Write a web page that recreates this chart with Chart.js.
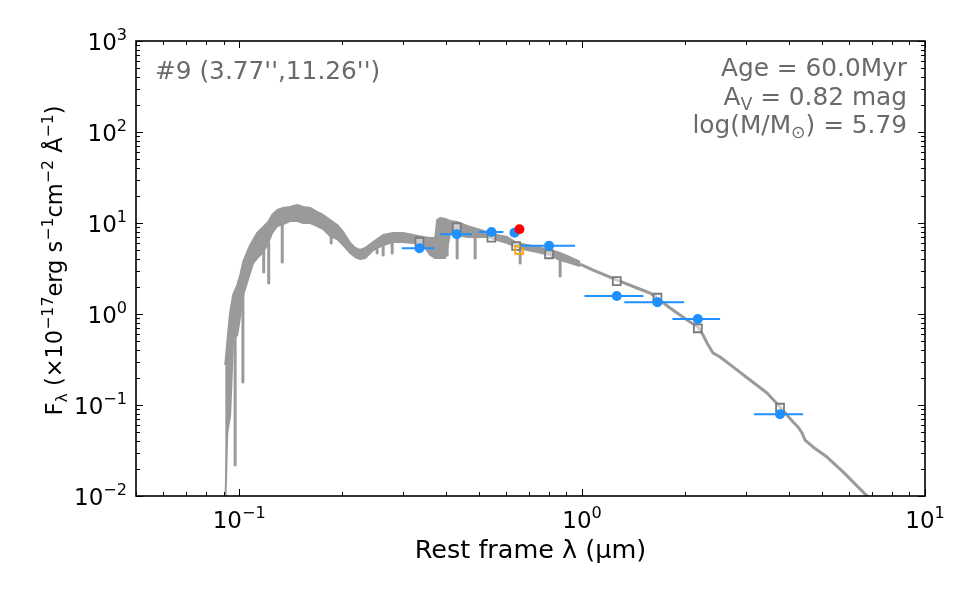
<!DOCTYPE html>
<html><head><meta charset="utf-8">
<script src="https://cdn.jsdelivr.net/npm/chart.js@4/dist/chart.umd.min.js"></script>
<style>html,body{margin:0;padding:0;background:#fff;}#wrap{width:975px;height:603px;}</style>
</head><body><div id="wrap"><canvas id="c" width="975" height="603"></canvas></div>
<script>
// ---- model spectrum: noisy UV/optical part drawn as a band (upper / lower envelope) ----
const bandLambda = [0.0910,0.0923,0.0941,0.0960,0.0987,0.1007,0.1027,0.1055,0.1077,0.1098,0.1128,0.1151,0.1175,0.1215,0.1248,0.1291,0.1344,0.1408,0.1476,0.1537,0.1611,0.1688,0.1757,0.1842,0.1931,0.2010,0.2107,0.2179,0.2253,0.2330,0.2459,0.2629,0.2812,0.3006,0.3216,0.3439,0.3605,0.3728,0.3778,0.3855,0.3987,0.4123,0.4321,0.4620,0.4942,0.5284,0.5651,0.6043,0.6462,0.6915,0.7393,0.8067,0.8628,0.9043,0.9867];
const bandHi = [0.275,0.492,1.05,1.62,2.08,2.68,3.73,4.80,5.73,6.50,7.77,8.38,9.04,10.26,12.24,13.90,14.62,14.99,15.77,14.99,14.62,13.21,12.24,10.79,9.51,7.96,6.03,5.31,5.05,5.31,6.18,7.38,7.77,7.77,7.38,7.02,6.84,6.84,10.79,11.35,11.07,10.52,10.26,9.27,8.59,7.96,7.38,7.02,6.03,5.73,5.45,5.05,4.68,4.34,3.73];
const bandLo = [0.007,0.0492,0.0777,0.518,0.588,0.975,1.62,2.25,2.89,3.63,4.12,4.45,4.80,6.03,7.77,9.27,9.75,10.52,10.52,10.00,10.00,9.27,8.59,7.20,6.67,5.73,4.68,4.23,4.02,4.12,5.05,5.73,6.18,6.18,6.03,5.73,4.45,4.12,4.12,4.12,4.12,7.77,7.38,7.02,7.02,7.02,6.50,6.03,5.45,5.05,4.80,4.45,3.92,3.73,3.37];
// ---- model spectrum: smooth near-IR tail ----
const tailLambda = [0.9867,1.077,1.265,1.446,1.579,1.655,1.805,2.024,2.178,2.253,2.314,2.409,2.526,2.755,3.089,3.462,3.778,4.123,4.264,4.380,4.469,4.714,5.179,5.768,6.776,7.39];
const tailFlux = [3.54,3.04,2.36,1.93,1.70,1.50,1.164,0.859,0.720,0.588,0.480,0.373,0.337,0.262,0.188,0.1355,0.0951,0.0650,0.0573,0.0492,0.0412,0.0346,0.0268,0.0184,0.0100,0.0074];
// ---- narrow absorption lines of the model ----
const lineLambda = [0.0973,0.1025,0.1179,0.1219,0.1335,0.1854,0.2525,0.2629,0.2793,0.4041,0.4321,0.4876,0.6596,0.8628];
const lineTop = [0.667,1.745,4.80,6.03,9.75,7.20,5.05,5.73,6.18,7.77,7.38,7.02,5.45,4.12];
const lineBottom = [0.0219,0.179,2.89,2.19,3.73,6.03,4.68,4.45,4.68,4.45,4.12,4.12,3.63,2.62];
// ---- observed photometry ----
const obsLambda = [0.3355,0.431,0.544,0.635,0.801,1.262,1.658,2.175,3.778];
const obsFlux = [5.27,7.51,7.96,7.82,5.63,1.577,1.345,0.881,0.0790];
const obsLambdaLo = [0.298,0.3855,0.4984,0.635,0.66,1.016,1.328,1.834,3.173];
const obsLambdaHi = [0.370,0.477,0.5895,0.635,0.954,1.509,1.984,2.526,4.41];
const haLambda = [0.6565];
const haFlux = [8.53];
// ---- model photometry ----
const modelLambda = [0.3355,0.431,0.544,0.642,0.801,1.262,1.658,2.175,3.778];
const modelFlux = [6.23,8.95,6.90,5.59,4.53,2.30,1.51,0.697,0.0934];
const modelHaLambda = [0.6553];
const modelHaFlux = [5.05];
// ---- axes ----
const xMajorTicks = [0.1, 1, 10];
const xTickLabels = ['10^{−1}', '10^{0}', '10^{1}'];
const yMajorTicks = [0.01, 0.1, 1, 10, 100, 1000];
const yTickLabels = ['10^{−2}', '10^{−1}', '10^{0}', '10^{1}', '10^{2}', '10^{3}'];
const xTitle = 'Rest frame λ (μm)';
const yTitle = [['F',''],['λ','sub'],[' (×10',''],['−17','sup'],['erg s',''],['−1','sup'],['cm',''],['−2','sup'],[' Å',''],['−1','sup'],[')','']];
const labelLeft = '#9 (3.77\'\',11.26\'\')';
const labelRight = [
  [['Age = 60.0Myr','']],
  [['A',''],['V','sub'],[' = 0.82 mag','']],
  [['log(M/M',''],['⊙','sub'],[') = 5.79','']]
];

function minorTicks(lo, hi) {
  const out = [];
  for (let e = Math.floor(Math.log10(lo)); e <= Math.ceil(Math.log10(hi)); e++) {
    for (let m = 1; m <= 9; m++) {
      const v = +(m * Math.pow(10, e)).toPrecision(6);
      if (v >= lo * 0.9999 && v <= hi * 1.0001) out.push(v);
    }
  }
  return out;
}
const xAllTicks = minorTicks(0.05, 10);
const yAllTicks = minorTicks(0.01, 1000);

const pts = (xs, ys) => xs.map((x, i) => ({x: x, y: ys[i]}));
const segs = (xs0, xs1, ys0, ys1) => {
  const out = [];
  xs0.forEach((x, i) => { out.push({x: x, y: ys0[i]}); out.push({x: xs1[i], y: ys1[i]}); out.push({x: xs1[i], y: null}); });
  return out;
};

const FONT = '"DejaVu Sans", sans-serif';
function fontStr(s) { return s + 'px ' + FONT; }
function parseLabel(lbl) { const m = lbl.match(/^(.*)\^\{(.*)\}$/); return m ? [[m[1], ''], [m[2], 'sup']] : [[lbl, '']]; }
function richWidth(ctx, parts, size) {
  let w = 0;
  for (const [t, m] of parts) { ctx.font = fontStr(m ? size * 0.7 : size); w += ctx.measureText(t).width; }
  return w;
}
function drawRich(ctx, parts, x, y, size, align) {
  const w = richWidth(ctx, parts, size);
  let cx = align === 'right' ? x - w : (align === 'center' ? x - w / 2 : x);
  ctx.textAlign = 'left'; ctx.textBaseline = 'alphabetic';
  for (const [t, m] of parts) {
    const s = m ? size * 0.7 : size;
    ctx.font = fontStr(s);
    const dy = m === 'sup' ? -size * 0.42 : (m === 'sub' ? size * 0.22 : 0);
    ctx.fillText(t, cx, y + dy);
    cx += ctx.measureText(t).width;
  }
}

const framePlugin = {
  id: 'frame',
  afterDraw(chart) {
    const ctx = chart.ctx, a = chart.chartArea, xs = chart.scales.x, ys = chart.scales.y;
    ctx.save();
    ctx.strokeStyle = '#000'; ctx.lineWidth = 1;
    xAllTicks.forEach(v => {
      const p = Math.round(xs.getPixelForValue(v)) + 0.5;
      const len = xMajorTicks.includes(v) ? 7 : 4;
      ctx.beginPath(); ctx.moveTo(p, a.bottom); ctx.lineTo(p, a.bottom - len);
      ctx.moveTo(p, a.top); ctx.lineTo(p, a.top + len); ctx.stroke();
    });
    yAllTicks.forEach(v => {
      const p = Math.round(ys.getPixelForValue(v)) + 0.5;
      const len = yMajorTicks.includes(v) ? 7 : 4;
      ctx.beginPath(); ctx.moveTo(a.left, p); ctx.lineTo(a.left + len, p);
      ctx.moveTo(a.right, p); ctx.lineTo(a.right - len, p); ctx.stroke();
    });
    ctx.lineWidth = 1.6;
    ctx.strokeRect(a.left, a.top, a.right - a.left, a.bottom - a.top);
    ctx.fillStyle = '#000';
    xMajorTicks.forEach((v, i) => {
      drawRich(ctx, parseLabel(xTickLabels[i]), xs.getPixelForValue(v), a.bottom + 32, 23, 'center');
    });
    yMajorTicks.forEach((v, i) => {
      drawRich(ctx, parseLabel(yTickLabels[i]), a.left - 9, ys.getPixelForValue(v) + 8.5, 23, 'right');
    });
    drawRich(ctx, [[xTitle, '']], (a.left + a.right) / 2, 558, 25.5, 'center');
    ctx.save();
    ctx.translate(62, (a.top + a.bottom) / 2 - 8);
    ctx.rotate(-Math.PI / 2);
    drawRich(ctx, yTitle, 0, 0, 22.5, 'center');
    ctx.restore();
    ctx.fillStyle = '#6a6a6a';
    drawRich(ctx, [[labelLeft, '']], 155, 79, 24.8, 'left');
    labelRight.forEach((parts, i) => drawRich(ctx, parts, 907, 76 + i * 28.5, 24.8, 'right'));
    ctx.restore();
  }
};

const GREY = '#9a9a9a';
new Chart(document.getElementById('c'), {
  type: 'line',
  data: {
    datasets: [
      {label: 'Halpha', data: pts(haLambda, haFlux), showLine: false, pointRadius: 5, pointBackgroundColor: '#ff0000', pointBorderColor: '#ff0000', pointBorderWidth: 0},
      {label: 'observed', data: pts(obsLambda, obsFlux), showLine: false, pointRadius: 5, pointBackgroundColor: '#1e90ff', pointBorderColor: '#1e90ff', pointBorderWidth: 0},
      {label: 'xerr', data: segs(obsLambdaLo, obsLambdaHi, obsFlux, obsFlux), borderColor: '#1e90ff', borderWidth: 2, pointRadius: 0, spanGaps: false, fill: false},
      {label: 'model Halpha', data: pts(modelHaLambda, modelHaFlux), showLine: false, pointStyle: 'rect', pointRadius: 5.6, pointBackgroundColor: 'rgba(255,255,255,0)', pointBorderColor: '#ffa500', pointBorderWidth: 1.8},
      {label: 'model phot', data: pts(modelLambda, modelFlux), showLine: false, pointStyle: 'rect', pointRadius: 5.6, pointBackgroundColor: 'rgba(255,255,255,0.5)', pointBorderColor: '#7a7a7a', pointBorderWidth: 1.8},
      {label: 'lines', data: segs(lineLambda, lineLambda, lineTop, lineBottom), borderColor: GREY, borderWidth: 3, pointRadius: 0, spanGaps: false, fill: false},
      {label: 'tail', data: pts(tailLambda, tailFlux), borderColor: GREY, borderWidth: 3, pointRadius: 0, fill: false},
      {label: 'bandHi', data: pts(bandLambda, bandHi), borderColor: GREY, borderWidth: 2, pointRadius: 0, fill: false},
      {label: 'bandLo', data: pts(bandLambda, bandLo), borderColor: GREY, borderWidth: 2, pointRadius: 0, fill: '-1', backgroundColor: GREY}
    ]
  },
  options: {
    responsive: false, animation: false, devicePixelRatio: 1,
    layout: {padding: {left: 0, right: 50, top: 41, bottom: 0}},
    plugins: {legend: {display: false}, tooltip: {enabled: false}},
    elements: {line: {borderCapStyle: 'butt', borderJoinStyle: 'round'}},
    scales: {
      x: {type: 'logarithmic', position: 'bottom', min: 0.05, max: 10,
          grid: {display: false}, border: {display: false}, ticks: {display: false},
          afterBuildTicks: s => { s.ticks = xAllTicks.map(v => ({value: v})); },
          afterFit: s => { s.height = 107; }},
      y: {type: 'logarithmic', position: 'left', min: 0.01, max: 1000,
          grid: {display: false}, border: {display: false}, ticks: {display: false},
          afterBuildTicks: s => { s.ticks = yAllTicks.map(v => ({value: v})); },
          afterFit: s => { s.width = 136; }}
    }
  },
  plugins: [framePlugin]
});
</script></body></html>
